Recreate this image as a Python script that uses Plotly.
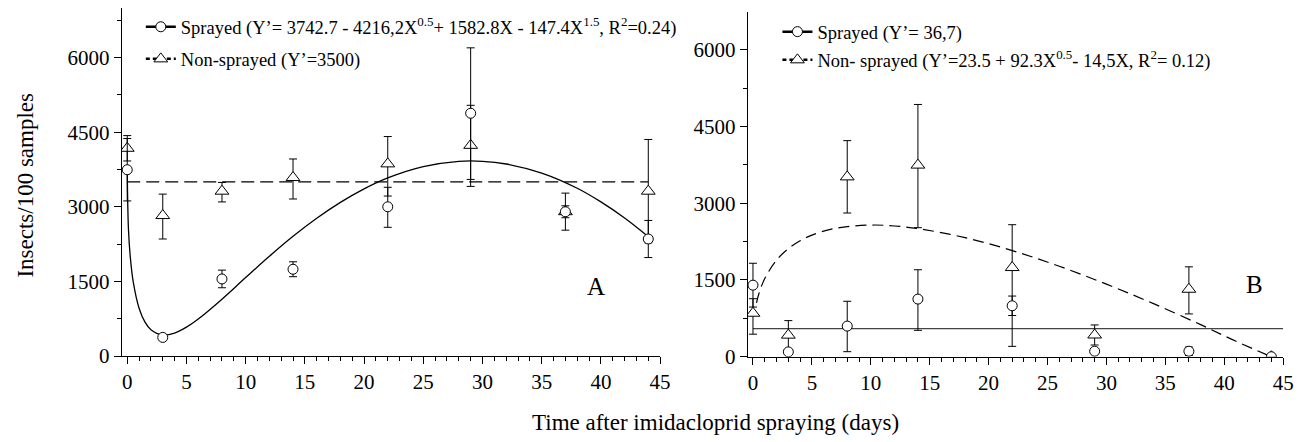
import plotly.graph_objects as go

# ---------------- data ----------------
days = [0, 3, 8, 14, 22, 29, 37, 44]

# Panel A
a_spr = [3745, 375, 1550, 1745, 3000, 4880, 2900, 2353]
a_spr_plus = [627, 30, 177, 150, 392, 160, 120, 373]
a_spr_minus = [627, 30, 177, 150, 412, 1330, 120, 373]
a_non = [4176, 2824, 3314, 3588, 3863, 4235, 2902, 3314]
a_non_plus = [255, 431, 176, 373, 549, 1960, 373, 1039]
a_non_minus = [255, 471, 216, 431, 647, 825, 372, 1039]

# fitted curve of panel A (sprayed)
a_fit_x = [0, 0.1, 0.25, 0.5, 1, 1.5, 2, 3, 4, 5, 6, 8, 10, 12, 14, 16, 18, 20,
           22, 25, 28, 30, 32, 35, 38, 40, 42, 44]
a_fit_y = [3743, 2563, 2012, 1500, 962, 682, 529, 423, 462, 581, 746, 1144, 1577,
           2004, 2406, 2769, 3088, 3360, 3580, 3807, 3913, 3914, 3860, 3676, 3372,
           3098, 2775, 2400]
a_mean_x = [0, 44]
a_mean_y = [3500, 3500]

# Panel B
b_spr = [1399, 95, 599, 1127, 996, 108, 108, 0]
b_spr_plus = [428, 30, 485, 573, 190, 40, 82, 0]
b_spr_minus = [428, 30, 500, 611, 190, 40, 82, 0]
b_non = [850, 422, 3515, 3745, 1743, 425, 1319, 0]
b_non_plus = [284, 284, 708, 1185, 837, 196, 438, 0]
b_non_minus = [409, 284, 706, 1223, 1540, 196, 482, 0]

b_mean_x = [0, 45]
b_mean_y = [551, 551]
# fitted curve of panel B (non-sprayed)
b_fit_x = [0.3, 0.5, 1, 2, 3, 4, 5, 7, 10, 12, 14, 18, 22, 26, 30, 34, 38, 41, 44]
b_fit_y = [1052, 1231, 1530, 1888, 2112, 2266, 2377, 2510, 2573, 2555, 2505, 2327,
           2075, 1768, 1419, 1037, 627, 302, 0]

x_ticks = [0, 5, 10, 15, 20, 25, 30, 35, 40, 45]
y_ticks = [0, 1500, 3000, 4500, 6000]

leg_a1 = "Sprayed (Y\u2019= 3742.7 - 4216,2X<sup>0.5</sup>+ 1582.8X - 147.4X<sup>1.5</sup>, R<sup>2</sup>=0.24)"
leg_a2 = "Non-sprayed (Y\u2019=3500)"
leg_b1 = "Sprayed (Y\u2019= 36,7)"
leg_b2 = "Non- sprayed (Y\u2019=23.5 + 92.3X<sup>0.5</sup>- 14,5X, R<sup>2</sup>= 0.12)"

FONT = "Liberation Serif"

# ---------------- figure ----------------
fig = go.Figure()

circ = dict(symbol="circle", size=10, color="white", line=dict(color="black", width=1))
tri = dict(symbol="triangle-up", size=12, color="white", line=dict(color="black", width=1))


def err(plus, minus):
    return dict(type="data", array=plus, arrayminus=minus, symmetric=False,
                color="black", thickness=1, width=4)


# Panel A curves
fig.add_trace(go.Scatter(x=a_fit_x, y=a_fit_y, mode="lines", line=dict(color="black", width=1.3, shape="spline"),
                         showlegend=False, xaxis="x", yaxis="y"))
fig.add_trace(go.Scatter(x=a_mean_x, y=a_mean_y, mode="lines",
                         line=dict(color="black", width=1.2, dash="13px,6px"),
                         showlegend=False, xaxis="x", yaxis="y"))
# Panel A points
fig.add_trace(go.Scatter(x=days, y=a_non, mode="markers", marker=tri,
                         error_y=err(a_non_plus, a_non_minus), showlegend=False, xaxis="x", yaxis="y"))
fig.add_trace(go.Scatter(x=days, y=a_spr, mode="markers", marker=circ,
                         error_y=err(a_spr_plus, a_spr_minus), showlegend=False, xaxis="x", yaxis="y"))

# Panel B curves
fig.add_trace(go.Scatter(x=b_mean_x, y=b_mean_y, mode="lines", line=dict(color="#444444", width=1.3),
                         showlegend=False, xaxis="x2", yaxis="y2"))
fig.add_trace(go.Scatter(x=b_fit_x, y=b_fit_y, mode="lines",
                         line=dict(color="black", width=1.2, dash="11px,6px", shape="spline"),
                         showlegend=False, xaxis="x2", yaxis="y2"))
# Panel B points
fig.add_trace(go.Scatter(x=days, y=b_non, mode="markers", marker=tri,
                         error_y=err(b_non_plus, b_non_minus), showlegend=False, xaxis="x2", yaxis="y2"))
fig.add_trace(go.Scatter(x=days, y=b_spr, mode="markers", marker=circ,
                         error_y=err(b_spr_plus, b_spr_minus), showlegend=False, xaxis="x2", yaxis="y2"))

# Legend entries
leg_specs = [
    (leg_a1, "legend", circ, "solid", "x", "y"),
    (leg_a2, "legend2", tri, "4px,3px", "x", "y"),
    (leg_b1, "legend3", circ, "solid", "x2", "y2"),
    (leg_b2, "legend4", tri, "4px,3px", "x2", "y2"),
]
for name, lg, mk, dash, xa, ya in leg_specs:
    fig.add_trace(go.Scatter(x=[None], y=[None], mode="lines+markers", name=name, legend=lg,
                             marker=mk, line=dict(color="black", width=2.5, dash=dash),
                             xaxis=xa, yaxis=ya))

tickfont = dict(family=FONT, size=21, color="black")
xa_common = dict(range=[-0.47, 45], tickvals=x_ticks, ticks="outside", ticklen=7, tickwidth=1,
                 tickcolor="black", showline=True, linecolor="black", linewidth=1,
                 showgrid=False, zeroline=False,
                 minor=dict(dtick=1, ticks="outside", ticklen=4, tickcolor="black", tickwidth=1, showgrid=False),
                 tickfont=tickfont)
ya_common = dict(tickvals=y_ticks, ticks="outside", ticklen=7, tickwidth=1,
                 tickcolor="black", showline=True, linecolor="black", linewidth=1,
                 showgrid=False, zeroline=False,
                 minor=dict(dtick=750, tick0=0, ticks="outside", ticklen=4, tickcolor="black", tickwidth=1, showgrid=False),
                 tickfont=tickfont)

W, H = 1313, 442

legend_common = dict(bgcolor="rgba(0,0,0,0)", borderwidth=0, xanchor="left", yanchor="middle",
                     font=dict(family=FONT, size=18.5, color="black"))

fig.update_layout(
    width=W, height=H,
    margin=dict(l=0, r=0, t=0, b=0),
    paper_bgcolor="white", plot_bgcolor="white",
    font=dict(family=FONT, color="black"),
    xaxis=dict(domain=[122.7 / W, 665.7 / W], anchor="y", **xa_common),
    yaxis=dict(domain=[(H - 366) / H, (H - 8) / H], range=[0, 7000], anchor="x", **ya_common),
    xaxis2=dict(domain=[754 / W, 1294 / W], anchor="y2", **{**xa_common, "range": [-0.45, 45]}),
    yaxis2=dict(domain=[(H - 366.7) / H, (H - 12.7) / H], range=[0, 6730], anchor="x2", **ya_common),
    legend=dict(x=142 / W, y=(H - 28) / H, **legend_common),
    legend2=dict(x=142 / W, y=(H - 61) / H, **legend_common),
    legend3=dict(x=784 / W, y=(H - 33) / H, **legend_common),
    legend4=dict(x=784 / W, y=(H - 62) / H, **legend_common),
    annotations=[
        dict(x=39.6, y=1390, xref="x", yref="y", text="A", showarrow=False,
             xanchor="center", yanchor="middle", font=dict(family=FONT, size=25, color="black")),
        dict(x=42.6, y=1410, xref="x2", yref="y2", text="B", showarrow=False,
             xanchor="center", yanchor="middle", font=dict(family=FONT, size=25, color="black")),
        dict(x=722 / W, y=(H - 434) / H, xref="paper", yref="paper", text="Time after imidacloprid spraying (days)",
             showarrow=False, xanchor="center", yanchor="middle", font=dict(family=FONT, size=23, color="black")),
        dict(x=26 / W, y=(H - 190) / H, xref="paper", yref="paper", text="Insects/100 samples",
             showarrow=False, textangle=-90, xanchor="center", yanchor="middle",
             font=dict(family=FONT, size=23, color="black")),
    ],
)

fig.write_html("out.html", config={"displayModeBar": False},
               post_script="document.body.style.margin='0';")
